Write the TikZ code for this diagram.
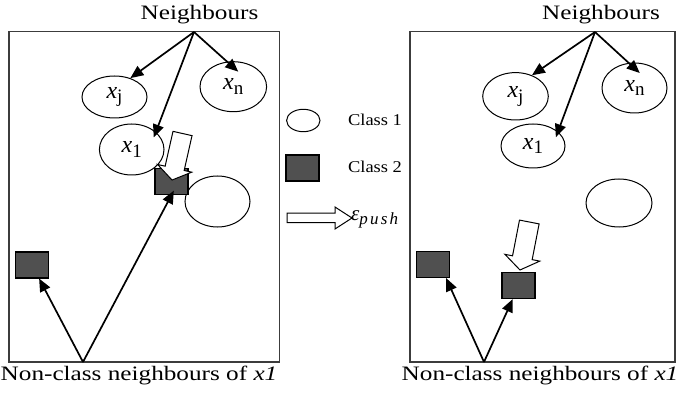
\documentclass[tikz,border=0pt]{standalone}
\usepackage{fontspec}
\setmainfont{Liberation Serif}
\usetikzlibrary{shapes.geometric,arrows.meta,calc}

\definecolor{sqgray}{RGB}{80,80,80}
\definecolor{framegray}{RGB}{60,60,60}

% ellipse label: italic x with a lowered upright index
\newcommand\xlab[1]{\textit{x}\raisebox{-4.5pt}{\fontsize{19}{19}\selectfont #1}}

% hollow push arrow: tail point, rotation, length, shaft width, head width, head length
\newcommand\pusharrow[6]{%
  \begin{scope}[shift={#1},rotate=#2]
    \draw[hollow] (0,-#4/2) -- ({#3-#6},-#4/2) -- ({#3-#6},-#5/2) -- (#3,0)
      -- ({#3-#6},#5/2) -- ({#3-#6},#4/2) -- (0,#4/2) -- cycle;
  \end{scope}}

\tikzset{
  frame/.style={draw=framegray, line width=1.3pt},
  cls/.style={ellipse, draw, line width=1pt, fill=white, inner sep=0pt,
    font=\fontsize{24}{24}\selectfont},
  sq/.style={rectangle, draw, line width=1.1pt, fill=sqgray, inner sep=0pt,
    minimum width=33pt, minimum height=26pt},
  link/.style={line width=1.7pt, -{Triangle[length=13pt,width=11pt]}},
  hollow/.style={draw, line width=1pt, fill=white, line join=miter},
  capt/.style={font=\fontsize{20.5}{24}\selectfont, xscale=1.23, inner sep=0pt},
  legtxt/.style={font=\fontsize{16.5}{20}\selectfont, xscale=1.12, inner sep=0pt},
}

\begin{document}
\begin{tikzpicture}[x=1pt, y=-1pt]
\useasboundingbox (0,0) rectangle (679,395);

% panels
\draw[frame] (9,31.5) rectangle (279.5,362);
\draw[frame] (410,31.5) rectangle (675,362);

% ---------- left panel ----------
\node[capt, anchor=base] (nbL) at (199.5,20) {Neighbours};
\coordinate (apL) at (194,32);
\coordinate (baseL) at (83,362);

\node[cls, minimum width=65pt, minimum height=42pt] (xjL) at (114.5,97) {\xlab{j}};
\node[cls, minimum width=66.6pt, minimum height=50pt] (xnL) at (233.3,86.7) {\xlab{n}};
\node[cls, minimum width=64.6pt, minimum height=51pt] (x1L) at (131.7,149.5) {\xlab{1}};
\node[cls, minimum width=65pt, minimum height=51pt] (c1L) at (217.5,201.5) {};
\node[sq] (sq2L) at (171.5,181.5) {};
\node[sq] (sq1L) at (32,265) {};

\pusharrow{(182.5,133.5)}{-102.7}{47.7}{19.5}{35}{12}

\draw[link] (apL) -- (xjL.50);
\draw[link, shorten >=-6pt] (apL) -- (x1L.36);
\draw[link, shorten >=-15pt] (apL) -- (xnL.104);
\draw[link] (baseL) -- (sq1L);
\draw[link, shorten >=-5pt] (baseL) -- (sq2L.south);

\node[capt, anchor=base] (ncL) at (139,380) {Non-class neighbours of \textit{x1}};

% ---------- legend ----------
\node[cls, minimum width=33.4pt, minimum height=22.4pt] (lg1) at (303.3,120.5) {};
\node[legtxt, anchor=base] (lt1) at (375,126) {Class 1};
\node[sq] (lg2) at (302.5,168) {};
\node[legtxt, anchor=base] (lt2) at (375,173) {Class 2};
\pusharrow{(287,218)}{0}{65}{9.5}{22}{17}
\node[anchor=base west, inner sep=0pt] (eps) at (351,221)
  {{\fontsize{21}{21}\selectfont\itshape ε}\raisebox{-3.5pt}{\fontsize{17}{17}\selectfont\itshape p\kern2.2pt u\kern2.2pt s\kern2.2pt h}};

% ---------- right panel ----------
\node[capt, anchor=base] (nbR) at (601,20) {Neighbours};
\coordinate (apR) at (595,32);
\coordinate (baseR) at (484,362);

\node[cls, minimum width=65.6pt, minimum height=47.4pt] (xjR) at (515.5,96.3) {\xlab{j}};
\node[cls, minimum width=65pt, minimum height=50pt] (xnR) at (634.5,88) {\xlab{n}};
\node[cls, minimum width=64pt, minimum height=44pt] (x1R) at (533,146) {\xlab{1}};
\node[cls, minimum width=66pt, minimum height=48pt] (c1R) at (619,203) {};
\node[sq] (sq1R) at (433,264.5) {};
\node[sq] (sq2R) at (518.5,285.5) {};

\pusharrow{(529.3,222)}{-101}{48.9}{20}{35.5}{12.5}

\draw[link] (apR) -- (xjR.52);
\draw[link, shorten >=-6pt] (apR) -- (x1R.30);
\draw[link, shorten >=-15pt] (apR) -- (xnR.103.5);
\draw[link] (baseR) -- (sq1R.-46);
\draw[link] (baseR) -- (sq2R.-113);

\node[capt, anchor=base] (ncR) at (540,380) {Non-class neighbours of \textit{x1}};
\end{tikzpicture}
\end{document}
